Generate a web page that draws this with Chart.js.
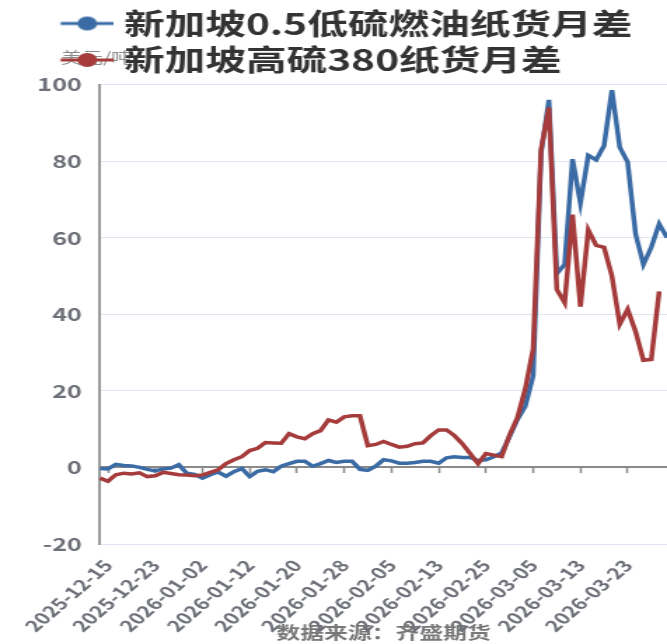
<!DOCTYPE html>
<html>
<head>
<meta charset="utf-8">
<script src="https://cdn.jsdelivr.net/npm/chart.js@4/dist/chart.umd.min.js"></script>
<style>
html,body{margin:0;padding:0;background:#fff;overflow:hidden;width:667px;height:644px;}
#wrap{position:absolute;left:0;top:0;width:476px;height:644px;transform:scaleX(1.4013);transform-origin:0 0;}
canvas{display:block;}
</style>
</head>
<body>
<div id="wrap"><canvas id="c" width="476" height="644"></canvas></div>
<script>
// ---- data ----
const dates = [
  '2025-12-12','2025-12-15','2025-12-16','2025-12-17','2025-12-18','2025-12-19','2025-12-22','2025-12-23',
  '2025-12-24','2025-12-26','2025-12-29','2025-12-30','2025-12-31','2026-01-02','2026-01-05','2026-01-06',
  '2026-01-07','2026-01-08','2026-01-09','2026-01-12','2026-01-13','2026-01-14','2026-01-15','2026-01-16',
  '2026-01-19','2026-01-20','2026-01-21','2026-01-22','2026-01-23','2026-01-26','2026-01-27','2026-01-28',
  '2026-01-29','2026-01-30','2026-02-02','2026-02-03','2026-02-04','2026-02-05','2026-02-06','2026-02-09',
  '2026-02-10','2026-02-11','2026-02-12','2026-02-13','2026-02-16','2026-02-19','2026-02-20','2026-02-23',
  '2026-02-24','2026-02-25','2026-02-26','2026-02-27','2026-03-02','2026-03-03','2026-03-04','2026-03-05',
  '2026-03-06','2026-03-09','2026-03-10','2026-03-11','2026-03-12','2026-03-13','2026-03-16','2026-03-17',
  '2026-03-18','2026-03-19','2026-03-20','2026-03-23','2026-03-24','2026-03-25','2026-03-26','2026-03-27',
  '2026-03-30'
];
const xTickDates = ['2025-12-15','2025-12-23','2026-01-02','2026-01-12','2026-01-20','2026-01-28',
  '2026-02-05','2026-02-13','2026-02-25','2026-03-05','2026-03-13','2026-03-23'];
const lowSulfur = [
  -0.3,-0.4,0.8,0.5,0.4,0.0,-0.5,-0.9,-0.4,-0.2,0.7,-1.5,-1.8,-2.8,-1.9,-1.2,
  -2.3,-1.1,-0.3,-2.4,-1.0,-0.6,-1.1,0.3,1.0,1.6,1.6,0.3,1.0,1.8,1.3,1.6,
  1.6,-0.5,-0.8,0.3,2.0,1.7,1.1,1.1,1.3,1.6,1.6,1.1,2.5,2.8,2.6,2.6,
  1.8,2.0,2.8,3.8,8.0,12.5,16.0,24.0,82.0,96.0,50.6,53.0,80.5,69.0,81.5,80.3,
  84.0,98.5,83.6,79.7,61.0,53.0,57.5,63.6,60.0
];
const highSulfur = [
  -2.8,-3.6,-1.9,-1.5,-1.7,-1.4,-2.4,-2.2,-1.3,-1.6,-1.9,-2.0,-2.2,-2.0,-1.3,-0.6,
  1.0,2.0,2.8,4.4,5.0,6.5,6.4,6.3,8.8,8.0,7.5,8.8,9.6,12.4,11.8,13.2,
  13.5,13.5,5.7,6.0,6.8,6.0,5.3,5.5,6.2,6.4,8.3,9.8,9.8,8.3,6.2,3.6,
  1.0,3.6,3.2,2.8,8.5,13.0,20.5,31.0,83.0,94.0,46.5,43.0,66.0,42.0,62.0,58.0,
  57.5,50.0,37.4,41.3,35.5,28.0,28.2,46.0,null
];
const seriesNames = ['新加坡0.5低硫燃油纸货月差','新加坡高硫380纸货月差'];
const seriesColors = ['#3b6ba5','#a53b3b'];
const yAxisName = '美元/吨';
const sourceText = '数据来源：齐盛期货';
const yMin = -20, yMax = 100, yStep = 20;

// ---- styling ----
const FONT = "'Noto Sans CJK SC','Noto Sans',sans-serif";

function makeMarker(color){
  const c = document.createElement('canvas');
  c.width = 80; c.height = 20;
  const g = c.getContext('2d');
  g.strokeStyle = color; g.lineWidth = 3;
  g.beginPath(); g.moveTo(42.5,10); g.lineTo(80,10); g.stroke();
  g.fillStyle = color;
  g.beginPath(); g.arc(61.5,10,7,0,Math.PI*2); g.fill();
  return c;
}
const markers = seriesColors.map(makeMarker);

const keepTicks = (s) => { s.ticks = s.ticks.filter(t => xTickDates.includes(dates[t.value])); };

const axisNamePlugin = {
  id: 'axisName',
  beforeDraw(chart){
    const ctx = chart.ctx, a = chart.chartArea;
    ctx.save();
    ctx.font = '15px ' + FONT;
    ctx.fillStyle = '#8a8a8a';
    ctx.textAlign = 'left';
    ctx.textBaseline = 'middle';
    ctx.fillText(yAxisName, a.left - 28, a.top - 27);
    ctx.restore();
  }
};

new Chart(document.getElementById('c'), {
  type: 'line',
  data: {
    labels: dates,
    datasets: [
      { label: seriesNames[0], data: lowSulfur, borderColor: seriesColors[0], backgroundColor: seriesColors[0], order: 2 },
      { label: seriesNames[1], data: highSulfur, borderColor: seriesColors[1], backgroundColor: seriesColors[1], order: 1 }
    ]
  },
  options: {
    responsive: false,
    animation: false,
    layout: { padding: { top: 1.5, left: 0, right: 0, bottom: 0 } },
    elements: {
      line: { tension: 0, borderWidth: 3.5 },
      point: { radius: 0, hoverRadius: 0 }
    },
    plugins: {
      tooltip: { enabled: false },
      legend: {
        display: true,
        position: 'top',
        align: 'start',
        labels: {
          usePointStyle: true,
          pointStyleWidth: 66.5,
          padding: 7.5,
          color: '#333',
          font: { size: 29, weight: 'bold', family: FONT },
          generateLabels: (chart) => chart.data.datasets.map((ds, i) => ({
            text: ds.label, fillStyle: ds.borderColor, strokeStyle: ds.borderColor,
            lineWidth: 0, pointStyle: markers[i], hidden: false, datasetIndex: i, fontColor: '#333'
          }))
        }
      }
    },
    scales: {
      x: {
        type: 'category',
        grid: { display: false, drawTicks: false },
        border: { display: false },
        ticks: {
          autoSkip: false, maxRotation: 50, minRotation: 50, padding: 12,
          color: '#6e7079', font: { size: 16, weight: 'bold', family: FONT }
        },
        title: {
          display: true, text: sourceText, color: '#777',
          font: { size: 17, weight: 'bold', family: FONT },
          padding: { top: 0, bottom: 1 }
        },
        afterBuildTicks: keepTicks,
        afterFit: (s) => { s.height = 100; }
      },
      x2: {
        type: 'category',
        axis: 'x',
        position: { y: 0 },
        grid: { drawOnChartArea: false, drawTicks: true, tickLength: 5, tickColor: '#8a8a8a', tickWidth: 1.5 },
        border: { display: true, color: '#8a8a8a', width: 2 },
        ticks: { display: false, autoSkip: false },
        afterBuildTicks: keepTicks
      },
      y: {
        min: yMin, max: yMax,
        ticks: { stepSize: yStep, padding: 13, color: '#6e7079', font: { size: 18, weight: 'bold', family: FONT } },
        grid: { color: '#e0e6f1', lineWidth: 1, drawTicks: false },
        border: { display: true, color: '#9a9a9a', width: 2 },
        afterFit: (s) => { s.width = 71.4; }
      }
    }
  },
  plugins: [axisNamePlugin]
});
</script>
</body>
</html>
